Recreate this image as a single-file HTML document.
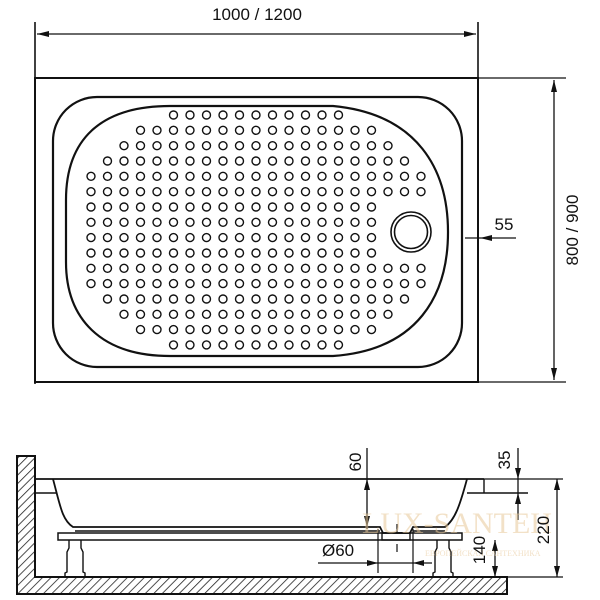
<!DOCTYPE html>
<html><head><meta charset="utf-8"><style>
html,body{margin:0;padding:0;background:#fff;}
svg{display:block;font-family:"Liberation Sans",sans-serif;}
</style></head><body>
<svg id="s" width="600" height="600" viewBox="0 0 600 600" xmlns="http://www.w3.org/2000/svg">
<defs>
<pattern id="h" width="6" height="6" patternUnits="userSpaceOnUse" patternTransform="rotate(45)">
<line x1="0" y1="0" x2="0" y2="6" stroke="#222" stroke-width="1.6"/>
</pattern>
</defs>
<g fill="none" stroke="#111" stroke-width="1.6">
<!-- top view -->
<line x1="35" y1="22" x2="35" y2="384"/>
<line x1="478" y1="22" x2="478" y2="78"/>
<line x1="37" y1="34" x2="476" y2="34" stroke-width="1.3"/>
<rect x="35" y="78" width="443" height="304" stroke-width="2"/>
<line x1="478" y1="78" x2="566" y2="78" stroke-width="1.2"/>
<line x1="478" y1="382" x2="566" y2="382" stroke-width="1.2"/>
<line x1="554" y1="80" x2="554" y2="380" stroke-width="1.3"/>
<rect x="53" y="97" width="409" height="270" rx="44" ry="44" stroke-width="2.2"/>
<path d="M170,106 L333,106 C418,114 448,170 448,232 C448,295 418,350 333,356 L170,356 C100,356 66,318 66,262 L66,200 C66,140 100,106 170,106 Z" stroke-width="2.2"/>
<circle cx="411" cy="232" r="20" stroke-width="1.6"/>
<circle cx="411" cy="232" r="16.5" stroke-width="1.6"/>
<line x1="465" y1="238" x2="516" y2="238" stroke-width="1.3"/>
<g id="dots" stroke-width="1.4"></g>

<!-- side view -->
<path d="M17,456 H35 V577 H507 V594 H17 Z" fill="url(#h)" stroke-width="2"/>
<line x1="35" y1="479" x2="484" y2="479" stroke-width="1.8"/>
<line x1="35" y1="493" x2="56" y2="493" stroke-width="1.4"/>
<line x1="467" y1="493" x2="528" y2="493" stroke-width="1.4"/>
<line x1="484" y1="479" x2="484" y2="493" stroke-width="1.4"/>
<line x1="484" y1="479" x2="563" y2="479" stroke-width="1.2"/>
<line x1="507" y1="577" x2="563" y2="577" stroke-width="1.2"/>
<path d="M53,479 C60,505 62,520 73,527 L380,527 L383,533 L410,533 L413,527 L445,527 C455,520 460,505 467,479" stroke-width="1.8"/>
<line x1="75" y1="531" x2="380" y2="531" stroke-width="1.4"/>
<line x1="413" y1="531" x2="445" y2="531" stroke-width="1.4"/>
<rect x="58" y="533" width="404" height="7" stroke-width="1.5"/>
<rect x="382" y="533" width="28" height="7" stroke-width="1.4"/>
<path d="M69,540 V548 L67,552 V572 L65,573 V577 M81,540 V548 L83,552 V572 L85,573 V577" stroke-width="1.4"/>
<path d="M437,540 V548 L435,552 V572 L433,573 V577 M449,540 V548 L451,552 V572 L453,573 V577" stroke-width="1.4"/>
<line x1="397" y1="524" x2="397" y2="532" stroke-width="1.2"/>
<line x1="397" y1="544" x2="397" y2="552" stroke-width="1.2"/>
<line x1="378" y1="529" x2="378" y2="573" stroke-width="1.2"/>
<line x1="413" y1="529" x2="413" y2="573" stroke-width="1.2"/>
<line x1="318" y1="563" x2="432" y2="563" stroke-width="1.2"/>
<line x1="367" y1="448" x2="367" y2="529" stroke-width="1.3"/>
<line x1="518" y1="448" x2="518" y2="520" stroke-width="1.3"/>
<line x1="557" y1="479" x2="557" y2="577" stroke-width="1.3"/>
<line x1="495" y1="540" x2="495" y2="577" stroke-width="1.3"/>
</g>
<g fill="#111">
<path d="M37,34 l12,-3 v6 z"/><path d="M476,34 l-12,-3 v6 z"/>
<path d="M554,80 l-3,12 h6 z"/><path d="M554,380 l-3,-12 h6 z"/>
<path d="M480,238 l12,-3 v6 z"/>
<path d="M367,479 l-3,11 h6 z"/><path d="M367,527 l-3,-11 h6 z"/>
<path d="M518,479 l-3,-11 h6 z"/><path d="M518,493 l-3,11 h6 z"/>
<path d="M557,479 l-3,11 h6 z"/><path d="M557,577 l-3,-11 h6 z"/>
<path d="M495,540 l-3,11 h6 z"/><path d="M495,577 l-3,-11 h6 z"/>
<path d="M378,563 l-11,-3 v6 z"/><path d="M413,563 l11,-3 v6 z"/>
</g>
<g fill="#e9c99a" opacity="0.55" font-family="Liberation Serif,serif">
<text x="362" y="533" font-size="30">LUX-SANTEH</text>
<text x="425" y="556" font-size="8">ЕВРОПЕЙСКАЯ САНТЕХНИКА</text>
</g>
<g fill="#111" font-size="17">
<text x="257" y="20" text-anchor="middle">1000 / 1200</text>
<text x="504" y="230" text-anchor="middle">55</text>
<text transform="translate(578,230) rotate(-90)" text-anchor="middle">800 / 900</text>
<text transform="translate(361,462) rotate(-90)" text-anchor="middle">60</text>
<text transform="translate(510,460) rotate(-90)" text-anchor="middle">35</text>
<text transform="translate(549,530) rotate(-90)" text-anchor="middle">220</text>
<text transform="translate(485,550) rotate(-90)" text-anchor="middle">140</text>
<text x="322" y="556">Ø60</text>
</g>
</svg>
<script>
var g=document.getElementById('dots'),ns='http://www.w3.org/2000/svg';
var rows=[[5,15],[3,17],[2,18],[1,19],[0,20],[0,20],[0,17],[0,17],[0,17],[0,17],[0,20],[0,20],[1,19],[2,18],[3,17],[5,15]];
for(var r=0;r<16;r++){for(var c=rows[r][0];c<=rows[r][1];c++){var e=document.createElementNS(ns,'circle');e.setAttribute('cx',(91+c*16.5).toFixed(1));e.setAttribute('cy',(115+r*15.33).toFixed(1));e.setAttribute('r','4');g.appendChild(e);}}
</script>
</body></html>
